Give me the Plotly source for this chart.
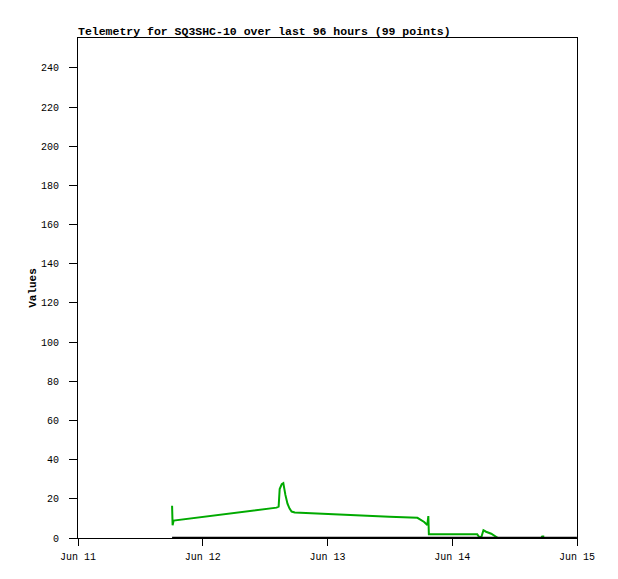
import plotly.graph_objects as go

green_times = [
    "2024-06-11 18:06", "2024-06-11 18:12", "2024-06-11 18:24", "2024-06-11 22:00",
    "2024-06-12 02:00", "2024-06-12 06:00", "2024-06-12 10:00", "2024-06-12 14:12",
    "2024-06-12 14:36", "2024-06-12 14:48", "2024-06-12 15:12", "2024-06-12 15:30",
    "2024-06-12 15:54", "2024-06-12 16:18", "2024-06-12 16:42", "2024-06-12 17:06",
    "2024-06-12 17:42", "2024-06-12 19:12", "2024-06-13 00:24", "2024-06-13 06:06",
    "2024-06-13 11:54", "2024-06-13 17:18", "2024-06-13 17:42", "2024-06-13 18:36",
    "2024-06-13 19:12", "2024-06-13 19:24", "2024-06-13 19:30", "2024-06-14 04:48",
    "2024-06-14 05:12", "2024-06-14 05:36", "2024-06-14 06:00", "2024-06-14 06:30",
    "2024-06-14 07:30", "2024-06-14 08:18", "2024-06-14 08:48", "2024-06-14 17:06",
    "2024-06-14 17:18", "2024-06-14 17:42",
]
green_values = [
    16.5, 6.5, 8.9, 10.1,
    11.4, 12.8, 14.1, 15.5,
    16.0, 25.0, 27.5, 28.0,
    22.0, 17.5, 15.0, 13.5,
    13.0, 12.8, 12.2, 11.6,
    10.8, 10.3, 9.7, 8.2,
    6.6, 11.2, 1.9, 1.9,
    0.5, 0.5, 4.0, 3.2,
    2.2, 1.0, 0.0, 0.0,
    0.8, 0.8,
]
black_times = ["2024-06-11 18:06", "2024-06-14 23:59"]
black_values = [0, 0]

tick_vals = ["2024-06-11", "2024-06-12", "2024-06-13", "2024-06-14", "2024-06-15"]
tick_text = ["Jun 11", "Jun 12", "Jun 13", "Jun 14", "Jun 15"]
y_ticks = [0, 20, 40, 60, 80, 100, 120, 140, 160, 180, 200, 220, 240]

fig = go.Figure()
fig.add_trace(go.Scatter(x=green_times, y=green_values, mode="lines",
                         line=dict(color="#00aa00", width=2), showlegend=False))
fig.add_trace(go.Scatter(x=black_times, y=black_values, mode="lines",
                         line=dict(color="#000000", width=2.5), showlegend=False))

mono = "Liberation Mono, DejaVu Sans Mono, monospace"
W, H = 610, 571
fig.update_layout(
    width=W, height=H,
    margin=dict(l=70, r=41, t=30, b=41),
    paper_bgcolor="white", plot_bgcolor="white",
    font=dict(family=mono, size=10, color="black"),
    title=dict(text="<b>Telemetry for SQ3SHC-10 over last 96 hours (99 points)</b>",
               x=70/W, xanchor="left", y=1-23/H, yanchor="middle",
               font=dict(family=mono, size=11.5, color="black")),
    xaxis=dict(type="date", range=["2024-06-11", "2024-06-15"],
               tickvals=tick_vals, ticktext=tick_text,
               ticks="outside", ticklen=7, tickcolor="black",
               ticklabelstandoff=2,
               showgrid=False, zeroline=False,
               showline=True, linecolor="black", linewidth=1, mirror=True,
               tickfont=dict(family=mono, size=10)),
    yaxis=dict(range=[0, 255.3], tickvals=y_ticks,
               ticks="outside", ticklen=8, tickcolor="black",
               ticklabelstandoff=8,
               showgrid=False, zeroline=False,
               showline=True, linecolor="black", linewidth=1, mirror=True,
               title=dict(text="<b>Values</b>", font=dict(family=mono, size=11), standoff=2),
               tickfont=dict(family=mono, size=10)),
)

fig.write_html("out.html")
